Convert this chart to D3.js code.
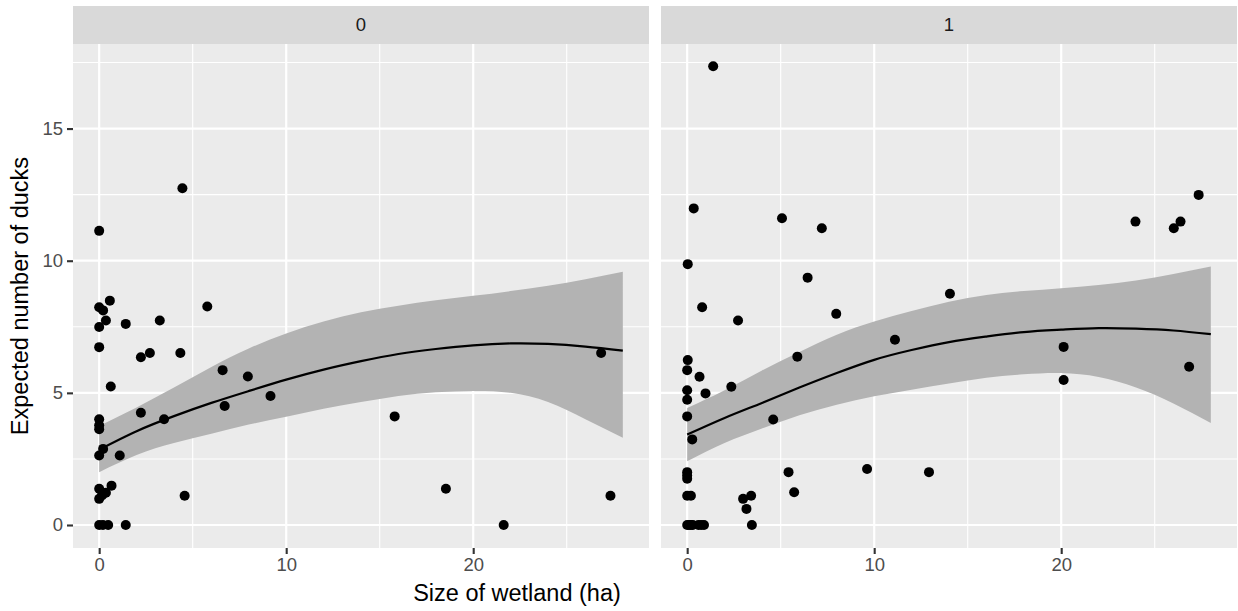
<!DOCTYPE html>
<html>
<head>
<meta charset="utf-8">
<script src="https://cdn.jsdelivr.net/npm/d3@7"></script>
<style>
  body { margin: 0; background: #fff; }
  text { font-family: "Liberation Sans", Arial, sans-serif; }
</style>
</head>
<body>
<svg id="chart" width="1238" height="611"></svg>
<script>
// facet labels
var facets = ["0", "1"]

// points, facet 0
var x0 = [0, 4.45, 0.57, 0, 0.21, 5.78, 0.36, 1.42, 3.24, 0, 0, 2.23, 2.71, 4.34, 0.62, 6.6, 7.95, 6.71, 9.16,
          2.23, 3.47, 0, 0, 0, 0.21, 0, 1.1, 0.66, 0, 0.36, 0.15, 0, 4.57, 0, 0.2, 0.48, 1.42,
          26.84, 15.8, 18.54, 21.63, 27.34]
var y0 = [11.13, 12.74, 8.49, 8.24, 8.12, 8.27, 7.74, 7.61, 7.74, 7.49, 6.73, 6.35, 6.51, 6.51, 5.24, 5.86, 5.62, 4.5, 4.88,
          4.25, 4.0, 4.0, 3.77, 3.62, 2.88, 2.63, 2.63, 1.49, 1.37, 1.22, 1.12, 0.99, 1.11, 0, 0, 0, 0,
          6.51, 4.11, 1.37, 0, 1.11]

// points, facet 1
var x1 = [1.39, 0.35, 5.07, 7.2, 0.03, 6.44, 14.05, 0.8, 2.72, 7.97, 11.11, 5.89, 0.03, 0, 0.66, 2.36, 0, 0.98, 0, 0,
          4.6, 0.27, 0, 0, 0, 5.42, 9.62, 12.93, 5.72, 0, 0.2, 2.99, 3.42, 3.17, 3.46,
          0, 0.1, 0.2, 0.3, 0.6, 0.75, 0.9, 27.35, 23.97, 26.38, 26.02, 20.13, 20.13, 26.84]
var y1 = [17.36, 11.98, 11.61, 11.23, 9.87, 9.36, 8.75, 8.24, 7.74, 7.99, 7.01, 6.37, 6.24, 5.86, 5.61, 5.23, 5.1, 4.98, 4.74, 4.11,
          3.99, 3.24, 2.0, 1.87, 1.75, 2.0, 2.12, 2.0, 1.24, 1.11, 1.11, 0.99, 1.11, 0.61, 0,
          0, 0, 0, 0, 0, 0, 0, 12.49, 11.48, 11.48, 11.23, 6.74, 5.49, 5.99]

// smooth fit and ribbon
var smoothX = [0, 2, 4, 6, 8, 10, 12, 14, 16, 18, 20, 22, 24, 26, 28]
var fit0 = [2.85, 3.55, 4.12, 4.62, 5.07, 5.5, 5.88, 6.2, 6.47, 6.66, 6.8, 6.87, 6.85, 6.75, 6.6]
var lo0  = [2.0, 2.65, 3.1, 3.45, 3.8, 4.1, 4.4, 4.65, 4.88, 5.02, 5.07, 5.0, 4.65, 4.0, 3.3]
var hi0  = [3.75, 4.45, 5.2, 5.98, 6.68, 7.25, 7.7, 8.05, 8.3, 8.5, 8.67, 8.85, 9.05, 9.3, 9.58]
var fit1 = [3.42, 4.05, 4.62, 5.2, 5.75, 6.25, 6.62, 6.92, 7.13, 7.3, 7.39, 7.45, 7.43, 7.36, 7.22]
var lo1  = [2.41, 3.1, 3.65, 4.15, 4.55, 4.87, 5.12, 5.35, 5.57, 5.7, 5.75, 5.6, 5.2, 4.6, 3.86]
var hi1  = [4.43, 5.1, 5.85, 6.55, 7.2, 7.7, 8.1, 8.45, 8.7, 8.85, 8.96, 9.08, 9.25, 9.5, 9.78]

var xTicks = [0, 10, 20]
var xMinor = [5, 15, 25]
var yTicks = [0, 5, 10, 15]
var yMinor = [2.5, 7.5, 12.5, 17.5]

var svg = d3.select("#chart")
svg.append("rect").attr("width", 1238).attr("height", 611).attr("fill", "#fff")

var panelTop = 44, panelBottom = 548, stripTop = 6
var panelLeft = [73, 661], panelW = 576

var y = d3.scaleLinear().domain([-0.87, 18.2]).range([panelBottom, panelTop])

var panels = [
  {label: facets[0], xs: x0, ys: y0, fit: fit0, lo: lo0, hi: hi0},
  {label: facets[1], xs: x1, ys: y1, fit: fit1, lo: lo1, hi: hi1}
]

panels.forEach(function(p, i) {
  var left = panelLeft[i]
  var x = d3.scaleLinear().domain([-1.4, 29.4]).range([left, left + panelW])
  var g = svg.append("g")

  // strip
  g.append("rect").attr("x", left).attr("y", stripTop).attr("width", panelW).attr("height", panelTop - stripTop)
    .attr("fill", "#D9D9D9")
  g.append("text").attr("x", left + panelW / 2).attr("y", (stripTop + panelTop) / 2)
    .attr("dy", "0.35em").attr("text-anchor", "middle").attr("font-size", 18.5).attr("fill", "#1A1A1A")
    .text(p.label)

  // panel background + grid
  g.append("rect").attr("x", left).attr("y", panelTop).attr("width", panelW).attr("height", panelBottom - panelTop)
    .attr("fill", "#EBEBEB")
  g.selectAll(".ymin").data(yMinor).enter().append("line")
    .attr("x1", left).attr("x2", left + panelW).attr("y1", d => y(d)).attr("y2", d => y(d))
    .attr("stroke", "#fff").attr("stroke-width", 1.1)
  g.selectAll(".xmin").data(xMinor).enter().append("line")
    .attr("y1", panelTop).attr("y2", panelBottom).attr("x1", d => x(d)).attr("x2", d => x(d))
    .attr("stroke", "#fff").attr("stroke-width", 1.1)
  g.selectAll(".ymaj").data(yTicks).enter().append("line")
    .attr("x1", left).attr("x2", left + panelW).attr("y1", d => y(d)).attr("y2", d => y(d))
    .attr("stroke", "#fff").attr("stroke-width", 2.2)
  g.selectAll(".xmaj").data(xTicks).enter().append("line")
    .attr("y1", panelTop).attr("y2", panelBottom).attr("x1", d => x(d)).attr("x2", d => x(d))
    .attr("stroke", "#fff").attr("stroke-width", 2.2)

  // ribbon + fit line
  var band = d3.area().x((d, j) => x(smoothX[j])).y0((d, j) => y(p.lo[j])).y1((d, j) => y(p.hi[j]))
    .curve(d3.curveNatural)
  g.append("path").attr("d", band(smoothX)).attr("fill", "#B3B3B3")
  var line = d3.line().x((d, j) => x(smoothX[j])).y(d => y(d)).curve(d3.curveNatural)
  g.append("path").attr("d", line(p.fit)).attr("fill", "none").attr("stroke", "#000").attr("stroke-width", 2.2)

  // points
  g.selectAll("circle").data(p.xs).enter().append("circle")
    .attr("cx", d => x(d)).attr("cy", (d, j) => y(p.ys[j])).attr("r", 5).attr("fill", "#000")

  // x axis
  var ax = g.append("g").attr("transform", "translate(0," + panelBottom + ")")
    .call(d3.axisBottom(x).tickValues(xTicks).tickSize(6).tickPadding(4))
  ax.attr("font-size", 18.5).attr("font-family", null)
  ax.select(".domain").remove()
  ax.selectAll("line").attr("stroke", "#333333").attr("stroke-width", 2.1)
  ax.selectAll("text").attr("fill", "#4D4D4D")
})

// y axis (left panel only)
var ay = svg.append("g").attr("transform", "translate(" + panelLeft[0] + ",0)")
  .call(d3.axisLeft(y).tickValues(yTicks).tickSize(6).tickPadding(4))
ay.attr("font-size", 18.5).attr("font-family", null)
ay.select(".domain").remove()
ay.selectAll("line").attr("stroke", "#333333").attr("stroke-width", 2.1)
ay.selectAll("text").attr("fill", "#4D4D4D")

// axis titles
svg.append("text").attr("x", 517).attr("y", 601).attr("text-anchor", "middle")
  .attr("font-size", 23.5).attr("fill", "#000").text("Size of wetland (ha)")
svg.append("text").attr("transform", "translate(28," + (panelTop + panelBottom) / 2 + ") rotate(-90)")
  .attr("text-anchor", "middle").attr("font-size", 23.5).attr("fill", "#000").text("Expected number of ducks")
</script>
</body>
</html>
